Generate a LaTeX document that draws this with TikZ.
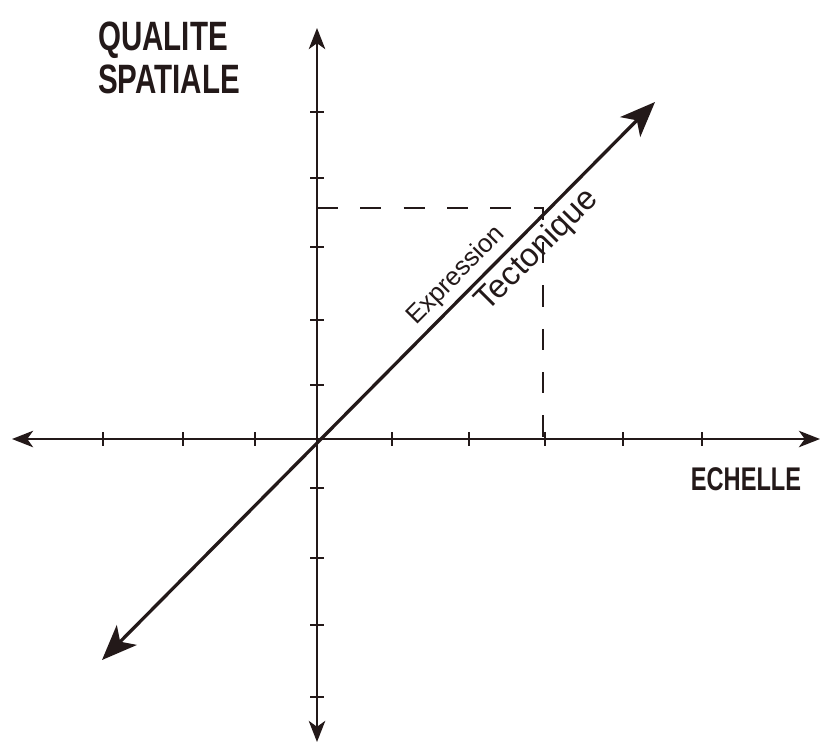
\documentclass[tikz,border=0pt]{standalone}
\usepackage{fontspec}
\setmainfont{Liberation Sans}
\newfontfamily\handfont[FakeStretch=0.72]{Liberation Sans Bold}
\usetikzlibrary{arrows.meta, calc}
\definecolor{inkcolor}{RGB}{35, 25, 25}

\begin{document}
\begin{tikzpicture}[
    x=0.03cm, y=-0.03cm,
    axis/.style={line width=2.2pt, inkcolor, {Stealth[length=18pt, width=14pt, inset=5pt]}-{Stealth[length=18pt, width=14pt, inset=5pt]}},
    trend/.style={line width=2.8pt, inkcolor, {Stealth[length=30pt, width=24pt, inset=8pt]}-{Stealth[length=30pt, width=24pt, inset=8pt]}},
    tick/.style={line width=1.8pt, inkcolor},
    guide/.style={line width=1.3pt, inkcolor, dash pattern=on 18pt off 19pt},
    axislabel/.style={inkcolor, font=\handfont\fontsize{35}{36}\selectfont, inner sep=0pt},
    linelabel/.style={inkcolor, sloped}
    ]
    \useasboundingbox (0,0) rectangle (821,743);

    % Points
    \coordinate (O) at (317,439);
    \coordinate (xmin) at (12,439);
    \coordinate (xmax) at (820,439);
    \coordinate (ymax) at (317,28);
    \coordinate (ymin) at (317,742);
    \coordinate (dmin) at (102,660);
    \coordinate (dmax) at (655,102);
    \coordinate (P) at (543,208);

    % Axes
    \draw[axis] (xmin) -- (xmax);
    \draw[axis] (ymin) -- (ymax);

    % Ticks
    \foreach \x in {103,183,255,392,469,545,623,702} {
        \draw[tick] (\x,432) -- (\x,446);
      }
    \foreach \y in {112,178,247,320,385,488,558,625,697} {
        \draw[tick] (310,\y) -- (324,\y);
      }

    % Projection of the point
    \draw[guide] (O |- P) -- (P) -- (P |- O);

    % Diagonal
    \draw[trend] (dmin) -- (dmax)
      node[linelabel, pos=0.665, above=1pt, font=\fontsize{22}{24}\selectfont] (expr) {Expression}
      node[linelabel, pos=0.76, below=0pt, font=\fontsize{28}{30}\selectfont] (tect) {Tectonique};

    % Labels
    \node[axislabel, anchor=north west, align=left] (ylabel) at (98,22) {QUALITE\\SPATIALE};
    \node[axislabel, font=\handfont\fontsize{28}{30}\selectfont] (xlabel) at (746,479) {ECHELLE};
  \end{tikzpicture}
\end{document}
